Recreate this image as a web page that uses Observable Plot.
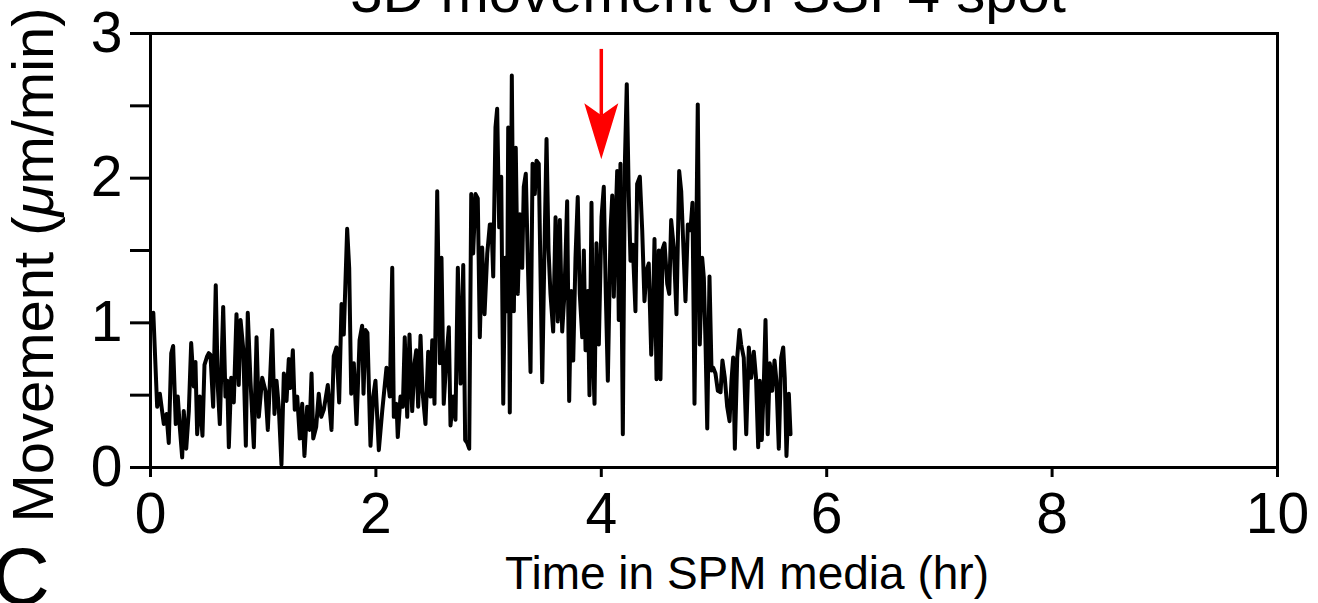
<!DOCTYPE html>
<html><head><meta charset="utf-8">
<script src="https://cdn.jsdelivr.net/npm/d3@7"></script>
<script src="https://cdn.jsdelivr.net/npm/@observablehq/plot@0.6"></script>
<style>html,body{margin:0;padding:0;background:#fff;overflow:hidden}</style>
</head><body><div id="chart"></div>
<script>
const titleText = "3D movement of SSP4 spot";
const xLabel = "Time in SPM media (hr)";
const panelLetter = "C";
const xTicks = [0, 2, 4, 6, 8, 10];
const yTicksMajor = [0, 1, 2, 3];
const yTicksMinor = [0.5, 1.5, 2.5];

const timeHr = [
0.025,0.059,0.083,0.118,0.142,0.162,0.184,0.201,0.224,0.242,0.260,0.281,0.295,0.317,0.340,0.361,0.384,0.399,0.414,0.437,
0.461,0.479,0.503,0.517,0.532,0.556,0.579,0.597,0.615,0.645,0.665,0.681,0.695,0.716,0.739,0.763,0.783,0.799,0.823,0.846,
0.863,0.887,0.917,0.941,0.961,0.991,1.020,1.041,1.080,1.100,1.118,1.138,1.162,1.183,1.207,1.227,1.242,1.263,1.280,1.302,
1.325,1.346,1.366,1.390,1.411,1.429,1.444,1.470,1.493,1.515,1.538,1.573,1.606,1.626,1.650,1.674,1.695,1.715,1.745,1.763,
1.781,1.804,1.828,1.855,1.878,1.890,1.908,1.925,1.952,1.976,1.996,2.026,2.056,2.094,2.123,2.145,2.159,2.183,2.194,2.218,
2.239,2.256,2.278,2.298,2.322,2.343,2.358,2.375,2.396,2.413,2.440,2.464,2.484,2.500,2.520,2.544,2.567,2.582,2.602,2.626,
2.647,2.662,2.686,2.706,2.727,2.751,2.775,2.792,2.810,2.828,2.846,2.863,2.884,2.904,2.922,2.943,2.964,2.988,3.011,3.026,
3.041,3.061,3.076,3.094,3.112,3.130,3.147,3.165,3.174,3.188,3.206,3.224,3.241,3.259,3.277,3.298,3.312,3.330,3.348,3.372,
3.390,3.410,3.425,3.445,3.476,3.496,3.514,3.532,3.549,3.573,3.594,3.614,3.632,3.653,3.673,3.697,3.715,3.733,3.751,3.771,
3.791,3.809,3.831,3.845,3.860,3.880,3.895,3.913,3.928,3.940,3.957,3.978,4.002,4.022,4.040,4.058,4.082,4.097,4.111,4.126,
4.141,4.155,4.170,4.191,4.209,4.226,4.244,4.259,4.279,4.303,4.318,4.342,4.363,4.383,4.401,4.421,4.443,4.460,4.472,4.490,
4.510,4.525,4.543,4.561,4.585,4.603,4.620,4.643,4.667,4.691,4.709,4.727,4.747,4.768,4.791,4.809,4.827,4.856,4.874,4.895,
4.910,4.925,4.940,4.960,4.978,4.993,5.013,5.034,5.058,5.075,5.096,5.117,5.138,5.155,5.170,5.185,5.206,5.226,5.241,5.264,
5.286,5.309,5.330,5.353,5.373,5.392,5.406,5.424,5.442,5.457,5.477,5.495,5.516,5.537,5.554,5.575,5.596,5.614,5.628,5.643,
5.664,5.679
];

const movement = [
1.07,0.42,0.51,0.30,0.37,0.17,0.79,0.84,0.30,0.49,0.28,0.07,0.39,0.13,0.39,0.86,0.56,0.73,0.23,0.49,
0.22,0.71,0.77,0.79,0.78,0.42,1.26,0.56,0.30,1.11,0.49,0.60,0.14,0.62,0.45,1.06,0.57,1.02,0.82,0.15,
1.07,0.60,0.14,0.90,0.35,0.62,0.53,0.26,0.95,0.37,0.60,0.42,0.02,0.65,0.46,0.75,0.55,0.81,0.40,0.49,
0.20,0.44,0.08,0.42,0.26,0.65,0.20,0.28,0.51,0.35,0.40,0.57,0.26,0.77,0.83,0.45,1.13,0.92,1.65,1.38,
0.51,0.72,0.30,0.88,0.98,0.51,0.95,0.93,0.15,0.49,0.60,0.12,0.39,0.69,0.49,1.38,0.35,0.44,0.21,0.49,
0.42,0.90,0.35,0.92,0.39,0.72,0.81,0.42,0.91,0.53,0.30,0.80,0.49,0.88,0.44,1.91,0.72,1.45,0.44,0.76,
0.97,0.29,0.49,0.33,1.38,0.58,1.40,0.19,0.17,0.13,1.89,1.48,1.89,1.86,0.90,1.52,1.06,1.48,1.68,1.68,
1.32,2.35,2.48,1.66,2.01,0.44,1.45,1.08,2.35,0.38,2.71,1.08,2.21,1.20,1.75,1.38,1.94,2.03,1.43,0.66,
2.10,1.89,2.12,2.10,0.59,1.52,2.27,1.50,1.20,0.94,1.73,1.01,1.71,0.94,1.20,1.84,0.46,1.22,0.74,1.45,
1.87,1.20,0.90,1.50,0.81,1.22,0.50,1.83,0.72,0.44,1.55,0.85,1.73,1.94,1.20,0.60,1.64,1.88,1.18,1.68,
2.05,1.02,2.10,0.23,2.10,2.65,1.87,1.43,1.54,1.08,1.96,2.01,1.64,1.15,1.36,1.41,0.78,1.13,1.58,0.61,
1.50,0.61,1.51,1.55,1.27,1.20,1.71,1.52,1.06,2.05,1.91,1.55,1.15,1.68,1.64,1.83,0.44,2.51,0.85,1.45,
1.31,0.85,0.27,1.32,0.67,0.69,0.65,0.53,0.52,0.74,0.62,0.42,0.32,0.60,0.76,0.13,0.76,0.95,0.85,0.76,
0.23,0.83,0.62,0.80,0.62,0.14,0.60,0.19,0.58,1.02,0.23,0.72,0.53,0.74,0.60,0.13,0.76,0.83,0.62,0.08,
0.51,0.23
];

const arrowTime = 4;
const arrowTop = 2.89;
const arrowTip = 2.13;

const data = timeHr.map((t, i) => ({t, v: movement[i]}));

const arrowHead = {
  draw(ctx, size) {
    const r = Math.sqrt(size / Math.PI);
    ctx.moveTo(0, 0);
    ctx.lineTo(-r, -3.3 * r);
    ctx.lineTo(0, -2.6 * r);
    ctx.lineTo(r, -3.3 * r);
    ctx.closePath();
  }
};

const font = "'Liberation Sans', Arial, Helvetica, sans-serif";

const chart = Plot.plot({
  width: 1318, height: 603,
  marginLeft: 150, marginRight: 41, marginTop: 33, marginBottom: 136,
  style: {fontFamily: font, fontSize: "56px", background: "#fff", color: "#000"},
  x: {domain: [0, 10]},
  y: {domain: [0, 3]},
  marks: [
    Plot.line(data, {x: "t", y: "v", stroke: "#000", strokeWidth: 4, strokeLinejoin: "round"}),
    Plot.ruleX([arrowTime], {y1: arrowTop, y2: arrowTip + 0.3, stroke: "#ff0000", strokeWidth: 3.5}),
    Plot.dot([arrowTime], {x: d => d, y: () => arrowTip, r: 17, symbol: arrowHead, fill: "#ff0000", stroke: null}),
    Plot.frame({stroke: "#000", strokeWidth: 3}),
    Plot.axisX({ticks: xTicks, tickSize: 10, tickPadding: 15, strokeWidth: 3, fontSize: 57, label: null, tickFormat: d3.format("d")}),
    Plot.axisY({ticks: yTicksMajor, tickSize: 20, tickPadding: 8, strokeWidth: 3, fontSize: 57, label: null, tickFormat: d3.format("d")}),
    Plot.axisY({ticks: yTicksMinor, tickSize: 20, strokeWidth: 3, label: null, tickFormat: () => ""})
  ]
});

const svg = d3.select(chart);
svg.append("text").attr("x", 708).attr("y", 12).attr("text-anchor", "middle")
  .attr("font-size", 58).attr("font-family", font).attr("fill", "#000").text(titleText);
svg.append("text").attr("x", 747).attr("y", 589).attr("text-anchor", "middle")
  .attr("font-size", 46).attr("font-family", font).attr("fill", "#000").text(xLabel);
const yl = svg.append("text").attr("transform", "translate(53,265) rotate(-90)")
  .attr("text-anchor", "middle").attr("font-size", 58).attr("font-family", font).attr("fill", "#000");
yl.append("tspan").text("Movement (");
yl.append("tspan").attr("font-style", "italic").text("\u03BC");
yl.append("tspan").text("m/min)");
svg.append("text").attr("x", -8).attr("y", 604).attr("text-anchor", "start").attr("font-size", 80)
  .attr("font-family", font).attr("fill", "#000").text(panelLetter);

document.getElementById("chart").appendChild(chart);
</script>
</body></html>
